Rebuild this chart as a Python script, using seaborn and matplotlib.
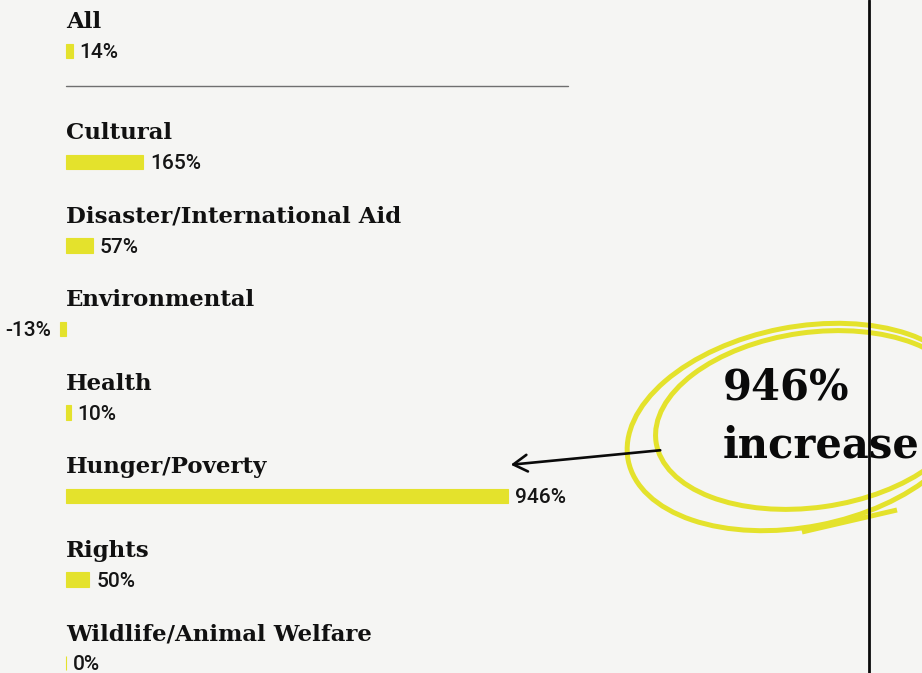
import numpy as np
import pandas as pd
import seaborn as sns
import matplotlib.pyplot as plt
from matplotlib.patches import Ellipse

# data
all_label = ["All"]
all_value = [14]
categories = ["Cultural", "Disaster/International Aid", "Environmental", "Health",
              "Hunger/Poverty", "Rights", "Wildlife/Animal Welfare"]
values = [165, 57, -13, 10, 946, 50, 0]

BG = "#f5f5f3"
YELLOW = "#e4e22c"
W, H = 922, 673

sns.set_theme(style="white")
plt.rcParams['font.family'] = ['DejaVu Sans']

fig = plt.figure(figsize=(W / 100, H / 100), dpi=100, facecolor=BG)

# x scale: 0 at px 66, 946 at px 508
k = (508 - 66) / 946
xlim = (-66 / k, (W - 66) / k)
row = 83.5  # px per category


def draw(ax, cats, vals, top_px, bot_px, first_px):
    df = pd.DataFrame({"cat": cats, "val": vals})
    sns.barplot(data=df, x="val", y="cat", ax=ax, color=YELLOW, width=0.17,
                orient="h", edgecolor=YELLOW, linewidth=0.8, saturation=1)
    ax.set_xlim(*xlim)
    ax.set_ylim(len(cats) - 1 + (bot_px - (first_px + (len(cats) - 1) * row)) / row,
                -(first_px - top_px) / row)
    ax.axis("off")
    for i, (c, v) in enumerate(zip(cats, vals)):
        ax.text(0, i - 0.275, c, family="DejaVu Serif", weight="bold",
                fontsize=16.5, color="#111111", va="baseline", ha="left")
        if v >= 0:
            ax.annotate(f"{v}%", (v, i), xytext=(5, -1.2), textcoords="offset points",
                        ha="left", va="center", family="Roboto", weight="medium",
                        fontsize=15, color="#151515")
        else:
            ax.annotate(f"{v}%", (v, i), xytext=(-6.5, -1.2), textcoords="offset points",
                        ha="right", va="center", family="Roboto", weight="medium",
                        fontsize=15, color="#151515")


split = 100
ax_top = fig.add_axes([0, 1 - split / H, 1, split / H])
ax_top.set_facecolor("none")
draw(ax_top, all_label, all_value, 0, split, 51)

ax_bot = fig.add_axes([0, 0, 1, 1 - split / H])
ax_bot.set_facecolor("none")
draw(ax_bot, categories, values, split, H, 162)

# overlay in pixel space for decorations
ov = fig.add_axes([0, 0, 1, 1])
ov.set_xlim(0, W)
ov.set_ylim(H, 0)
ov.axis("off")
ov.set_facecolor("none")

ov.plot([66, 568], [86, 86], color="#6f6f6f", lw=1)

ov.add_patch(Ellipse((800, 427), 350, 200, angle=-11, fill=False, ec=YELLOW, lw=3.6))
ov.add_patch(Ellipse((812, 420), 315, 175, angle=-8, fill=False, ec=YELLOW, lw=3.6))
ov.plot([802, 897], [532, 510], color=YELLOW, lw=3.6, solid_capstyle="butt")

ov.text(723, 400, "946%", family="DejaVu Serif", weight="bold", fontsize=30,
        color="#0a0a0a", va="baseline")
ov.text(723, 458, "increase", family="DejaVu Serif", weight="bold", fontsize=30,
        color="#0a0a0a", va="baseline")

ov.axvline(869, color="#0a0a0a", lw=2)

ov.annotate("", xy=(508, 465), xytext=(663, 450),
            arrowprops=dict(arrowstyle="->,head_length=0.5,head_width=0.3",
                            color="#0a0a0a", lw=1.9, mutation_scale=20))

fig.savefig("out.png", dpi=100, facecolor=BG)
